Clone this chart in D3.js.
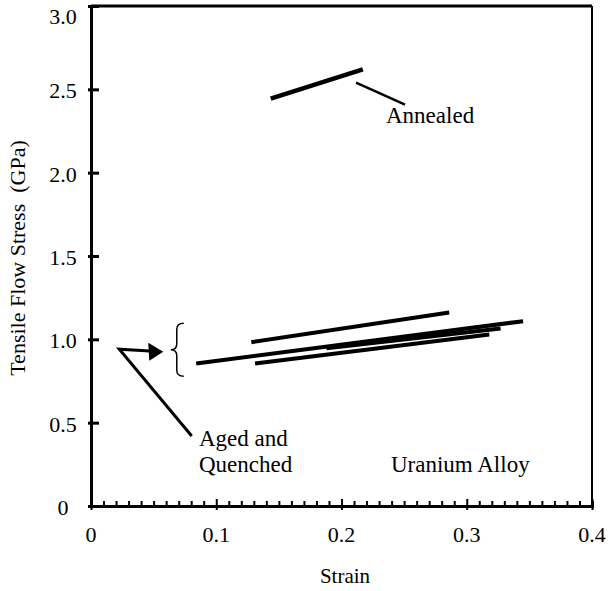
<!DOCTYPE html>
<html>
<head>
<meta charset="utf-8">
<script src="https://cdn.jsdelivr.net/npm/d3@7"></script>
</head>
<body style="margin:0">
<svg id="chart" width="611" height="591" font-family="Liberation Serif"></svg>
<script>
// strain / stress segments [x0, y0, x1, y1]
const annealed = [[0.1435, 2.444, 0.217, 2.620]]
const agedQuenched = [
  [0.128, 0.983, 0.286, 1.161],
  [0.084, 0.855, 0.345, 1.109],
  [0.131, 0.855, 0.318, 1.029],
  [0.188, 0.947, 0.327, 1.065]
]
const xTicks = [0, 0.1, 0.2, 0.3, 0.4]
const xTickLabels = ['0', '0.1', '0.2', '0.3', '0.4']
const yTicks = [0, 0.5, 1.0, 1.5, 2.0, 2.5, 3.0]
const yTickLabels = ['0', '0.5', '1.0', '1.5', '2.0', '2.5', '3.0']

// annotation geometry, in data units
const annealedLeader = [[0.2116, 2.540], [0.2507, 2.408]]
const agedLeader = [[0.0804, 0.420], [0.0226, 0.941], [0.0505, 0.929]]
const arrowTip = [0.0577, 0.925]
const bracket = { x: 0.0637, y0: 1.097, y1: 0.779 }

const svg = d3.select('#chart')
const x = d3.scaleLinear().domain([0, 0.4]).range([91, 592])
const y = d3.scaleLinear().domain([0, 3]).range([506, 6])

// text first, plain attributes like the font check page
function txt(tx, ty, s, size, anchor) {
  return svg.append('text')
    .attr('x', tx).attr('y', ty)
    .attr('font-size', size)
    .attr('font-family', 'Liberation Serif')
    .attr('text-anchor', anchor || 'start')
    .text(s)
}

xTicks.forEach((d, i) => txt(x(d), y(0) + 36, xTickLabels[i], 22, 'middle'))
yTicks.forEach((d, i) => txt(63, d === 3 ? 24 : y(d) + 9, yTickLabels[i], 22, 'middle'))

txt(345, 583, 'Strain', 21, 'middle')
txt(0, 0, 'Tensile Flow Stress\u00a0 (GPa)', 22, 'middle')
  .attr('transform', 'translate(25,258) rotate(-90)')

txt(386, 123, 'Annealed', 23)
txt(199, 446, 'Aged and', 23)
txt(199, 472, 'Quenched', 23)
txt(391, 472, 'Uranium Alloy', 23)

// frame top + right
svg.append('line').attr('x1', x(0)).attr('x2', x(0.4)).attr('y1', y(3)).attr('y2', y(3))
  .attr('stroke', '#000').attr('stroke-width', 3)
svg.append('line').attr('x1', x(0.4)).attr('x2', x(0.4)).attr('y1', y(3)).attr('y2', y(0))
  .attr('stroke', '#000').attr('stroke-width', 2)

// x axis: minor ticks every 0.01 pointing up
const xAxis = svg.append('g').attr('transform', `translate(0,${y(0)})`)
  .call(d3.axisBottom(x).tickValues(d3.range(0, 0.4001, 0.01)).tickSize(-5).tickFormat(''))
xAxis.select('.domain').attr('stroke-width', 3)
xAxis.selectAll('.tick line').attr('stroke-width', 2)
xAxis.selectAll('.tick text').remove()
xAxis.selectAll('.tick').filter(d => Math.abs(d * 10 - Math.round(d * 10)) < 1e-6)
  .select('line').attr('y1', 4).attr('y2', -7)

// y axis: ticks pointing inward
const yAxis = svg.append('g').attr('transform', `translate(${x(0)},0)`)
  .call(d3.axisRight(y).tickValues(yTicks).tickSize(8).tickFormat(''))
yAxis.select('.domain').attr('stroke-width', 3)
yAxis.selectAll('.tick text').remove()
yAxis.selectAll('.tick line').attr('stroke-width', 3).attr('x1', -3)

// data segments
const seg = (g, data, w) => g.selectAll('line').data(data).join('line')
  .attr('x1', d => x(d[0])).attr('y1', d => y(d[1]))
  .attr('x2', d => x(d[2])).attr('y2', d => y(d[3]))
  .attr('stroke', '#000').attr('stroke-width', w)
seg(svg.append('g'), annealed, 4.5)
seg(svg.append('g'), agedQuenched, 4)

// annotations
const line = d3.line().x(d => x(d[0])).y(d => y(d[1]))
svg.append('path').attr('d', line(annealedLeader))
  .attr('fill', 'none').attr('stroke', '#000').attr('stroke-width', 2.5)
svg.append('path').attr('d', line(agedLeader))
  .attr('fill', 'none').attr('stroke', '#000').attr('stroke-width', 3)

// arrow head
const ax = x(arrowTip[0]), ay = y(arrowTip[1])
svg.append('path')
  .attr('d', `M${ax},${ay} L${ax - 15},${ay - 9} L${ax - 14},${ay + 9} Z`)
  .attr('fill', '#000')

// curly bracket
const bx = x(bracket.x), by0 = y(bracket.y0), by1 = y(bracket.y1), bm = (by0 + by1) / 2
svg.append('path')
  .attr('d', `M${bx + 13},${by0} Q${bx + 6},${by0} ${bx + 6},${by0 + 6} L${bx + 6},${bm - 6} Q${bx + 6},${bm} ${bx},${bm}
    Q${bx + 6},${bm} ${bx + 6},${bm + 6} L${bx + 6},${by1 - 6} Q${bx + 6},${by1} ${bx + 13},${by1}`)
  .attr('fill', 'none').attr('stroke', '#000').attr('stroke-width', 1.5)
</script>
</body>
</html>
